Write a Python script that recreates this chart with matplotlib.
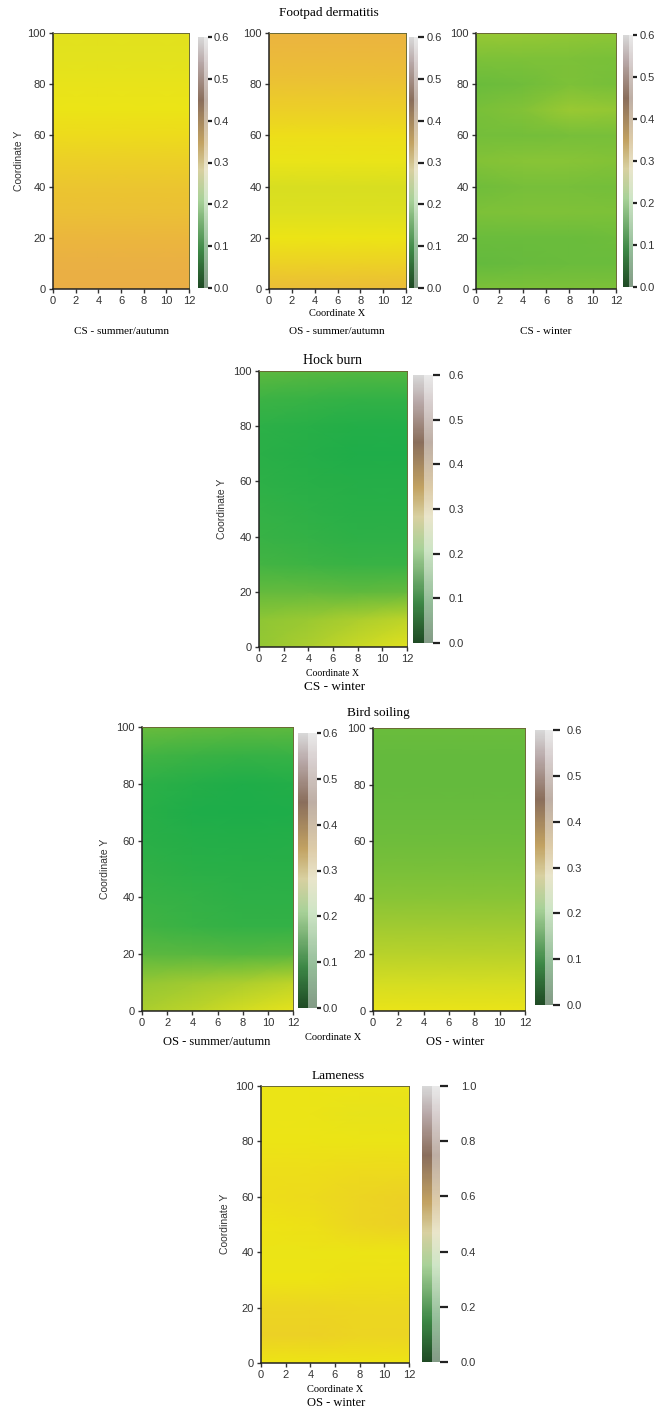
import numpy as np
import matplotlib
matplotlib.use("Agg")
import matplotlib.pyplot as plt
from matplotlib.colors import LinearSegmentedColormap, Normalize
from matplotlib.cm import ScalarMappable
from matplotlib.patches import Rectangle

# grid where the maps were sampled (Y rows bottom -> top, X columns)
y_levels = [0, 10, 20, 30, 40, 50, 60, 70, 80, 90, 100]
x_cols = [0, 4, 8, 12]

# Footpad dermatitis, CS - summer/autumn
fp_cs_summer = [
    [0.98, 0.98, 0.98, 0.98],
    [0.97, 0.97, 0.97, 0.97],
    [0.95, 0.95, 0.95, 0.95],
    [0.92, 0.92, 0.92, 0.92],
    [0.90, 0.90, 0.90, 0.90],
    [0.87, 0.87, 0.87, 0.87],
    [0.83, 0.83, 0.83, 0.83],
    [0.78, 0.78, 0.78, 0.78],
    [0.74, 0.74, 0.74, 0.74],
    [0.71, 0.71, 0.71, 0.71],
    [0.70, 0.70, 0.70, 0.70],
]
# Footpad dermatitis, OS - summer/autumn
fp_os_summer = [
    [0.93, 0.93, 0.93, 0.93],
    [0.86, 0.86, 0.86, 0.86],
    [0.79, 0.79, 0.79, 0.79],
    [0.69, 0.69, 0.69, 0.69],
    [0.67, 0.67, 0.67, 0.67],
    [0.76, 0.76, 0.76, 0.76],
    [0.82, 0.82, 0.82, 0.82],
    [0.87, 0.87, 0.87, 0.87],
    [0.91, 0.91, 0.91, 0.91],
    [0.94, 0.94, 0.94, 0.94],
    [0.96, 0.96, 0.96, 0.96],
]
# Footpad dermatitis, CS - winter
fp_cs_winter = [
    [0.36, 0.36, 0.36, 0.36],
    [0.28, 0.29, 0.30, 0.30],
    [0.30, 0.30, 0.30, 0.31],
    [0.36, 0.37, 0.37, 0.36],
    [0.32, 0.34, 0.34, 0.33],
    [0.38, 0.40, 0.40, 0.38],
    [0.33, 0.33, 0.34, 0.34],
    [0.35, 0.38, 0.46, 0.44],
    [0.30, 0.32, 0.36, 0.34],
    [0.36, 0.36, 0.36, 0.35],
    [0.45, 0.45, 0.43, 0.42],
]
# Hock burn, CS - winter
hb_cs_winter = [
    [0.44, 0.52, 0.62, 0.70],
    [0.42, 0.46, 0.52, 0.58],
    [0.28, 0.28, 0.26, 0.28],
    [0.16, 0.14, 0.12, 0.12],
    [0.12, 0.10, 0.08, 0.08],
    [0.10, 0.08, 0.06, 0.06],
    [0.08, 0.06, 0.05, 0.05],
    [0.07, 0.05, 0.03, 0.03],
    [0.08, 0.06, 0.04, 0.04],
    [0.14, 0.12, 0.10, 0.10],
    [0.26, 0.24, 0.22, 0.22],
]
# Bird soiling, OS - summer/autumn
bs_os_summer = [
    [0.52, 0.58, 0.66, 0.72],
    [0.44, 0.48, 0.52, 0.58],
    [0.25, 0.24, 0.22, 0.24],
    [0.15, 0.12, 0.10, 0.10],
    [0.12, 0.10, 0.08, 0.08],
    [0.09, 0.07, 0.06, 0.06],
    [0.07, 0.05, 0.04, 0.05],
    [0.06, 0.03, 0.02, 0.03],
    [0.08, 0.05, 0.03, 0.04],
    [0.16, 0.13, 0.11, 0.12],
    [0.30, 0.28, 0.26, 0.26],
]
# Bird soiling, OS - winter
bs_os_winter = [
    [0.76, 0.76, 0.76, 0.76],
    [0.66, 0.66, 0.66, 0.66],
    [0.56, 0.56, 0.56, 0.56],
    [0.48, 0.48, 0.48, 0.48],
    [0.40, 0.40, 0.40, 0.40],
    [0.35, 0.35, 0.35, 0.35],
    [0.31, 0.31, 0.31, 0.31],
    [0.29, 0.29, 0.29, 0.29],
    [0.28, 0.28, 0.28, 0.28],
    [0.28, 0.28, 0.28, 0.28],
    [0.30, 0.30, 0.30, 0.30],
]
# Lameness, OS - winter
lm_os_winter = [
    [0.80, 0.80, 0.80, 0.80],
    [0.86, 0.86, 0.85, 0.85],
    [0.85, 0.85, 0.84, 0.84],
    [0.80, 0.80, 0.81, 0.81],
    [0.78, 0.78, 0.79, 0.79],
    [0.80, 0.81, 0.85, 0.86],
    [0.82, 0.83, 0.85, 0.86],
    [0.82, 0.82, 0.83, 0.83],
    [0.79, 0.79, 0.78, 0.78],
    [0.78, 0.77, 0.73, 0.74],
    [0.78, 0.78, 0.77, 0.77],
]

cb_ticks_small = [0.0, 0.1, 0.2, 0.3, 0.4, 0.5, 0.6]
cb_ticks_lame = [0.0, 0.2, 0.4, 0.6, 0.8, 1.0]

W, H = 658, 1412
SANS = "Liberation Sans"
SERIF = "Liberation Serif"

# green -> yellow -> orange map for the fields
field_cmap = LinearSegmentedColormap.from_list("field", [
    (0.0, "#18ac4a"), (0.25, "#5cb83f"), (0.5, "#a6cc30"),
    (0.72, "#e6e31c"), (0.8, "#ede414"), (1.0, "#eaa84a")])
# the scanned looking legend bars
bar_cmap = LinearSegmentedColormap.from_list("bar", [
    (0.0, "#1f4a24"), (0.15, "#3d8846"), (0.35, "#a8d198"),
    (0.47, "#d8d0a0"), (0.58, "#c2a262"), (0.75, "#8a6e5c"),
    (0.9, "#b8a8a8"), (1.0, "#d8d8d8")])


def box(l, t, r, b):
    return [l / W, 1 - b / H, (r - l) / W, (b - t) / H]


def ftext(x, y, s, **kw):
    fig.text(x / W, 1 - y / H, s, ha="center", va="center", **kw)


def field(rect, data):
    ax = fig.add_axes(box(*rect))
    X, Y = np.meshgrid(x_cols, y_levels)
    ax.pcolormesh(X, Y, np.array(data), cmap=field_cmap, vmin=0, vmax=1,
                  shading="gouraud")
    ax.set_xlim(0, 12)
    ax.set_ylim(0, 100)
    ax.set_xticks(range(0, 13, 2))
    ax.set_yticks(range(0, 101, 20))
    ax.tick_params(direction="out", length=3, width=1, labelsize=8,
                   colors="#333333", pad=2)
    for lab in ax.get_xticklabels() + ax.get_yticklabels():
        lab.set_fontfamily(SANS)
    for s in ["left", "bottom"]:
        ax.spines[s].set_color("#222222")
        ax.spines[s].set_linewidth(1.1)
    for s in ["top", "right"]:
        ax.spines[s].set_color("#6a6a34")
        ax.spines[s].set_linewidth(0.7)
    return ax


def legend_bar(rect, vmax, ticks, tlen, tpad):
    cax = fig.add_axes(box(*rect))
    sm = ScalarMappable(norm=Normalize(0, vmax), cmap=bar_cmap)
    cb = fig.colorbar(sm, cax=cax, ticks=ticks)
    cb.outline.set_visible(False)
    cax.add_patch(Rectangle((0.55, 0), 0.45, 1, transform=cax.transAxes,
                            color="white", alpha=0.45, zorder=3, lw=0))
    cax.tick_params(length=tlen, width=1.6, colors="#222222", pad=tpad,
                    labelsize=8)
    cb.set_ticklabels(["%.1f" % t for t in ticks])
    for lab in cax.get_yticklabels():
        lab.set_fontfamily(SANS)
        lab.set_color("#333333")


fig = plt.figure(figsize=(W / 100, H / 100), dpi=100)

# Footpad dermatitis
field((53, 33, 189, 289), fp_cs_summer)
legend_bar((198, 37, 208, 288), 0.6, cb_ticks_small, 3, 1)
field((269, 33, 406, 289), fp_os_summer)
legend_bar((409, 37, 418, 288), 0.6, cb_ticks_small, 4, 2)
field((476, 33, 616, 289), fp_cs_winter)
legend_bar((623, 35, 633, 287), 0.6, cb_ticks_small, 3, 2)
ftext(329, 13, "Footpad dermatitis", family=SERIF, fontsize=9.5)
ftext(337, 313, "Coordinate X", family=SERIF, fontsize=7.5)
ftext(121, 331, "CS - summer/autumn", family=SERIF, fontsize=8)
ftext(337, 331, "OS - summer/autumn", family=SERIF, fontsize=8)
ftext(546, 331, "CS - winter", family=SERIF, fontsize=8)
fig.text(19 / W, 1 - 161 / H, "Coordinate Y", rotation=90, ha="center",
         va="center", family=SANS, fontsize=7.5, color="#333333")

# Hock burn
field((259, 371, 407, 647), hb_cs_winter)
legend_bar((413, 375, 433, 643), 0.6, cb_ticks_small, 5, 6)
ftext(333, 360, "Hock burn", family=SERIF, fontsize=10)
ftext(333, 673, "Coordinate X", family=SERIF, fontsize=7)
ftext(335, 687, "CS - winter", family=SERIF, fontsize=9.5)
fig.text(222 / W, 1 - 509 / H, "Coordinate Y", rotation=90, ha="center",
         va="center", family=SANS, fontsize=7.5, color="#333333")

# Bird soiling
field((142, 727, 293, 1011), bs_os_summer)
legend_bar((298, 733, 317, 1008), 0.6, cb_ticks_small, 3, 1)
field((373, 728, 525, 1011), bs_os_winter)
legend_bar((535, 730, 553, 1005), 0.6, cb_ticks_small, 5, 5)
ftext(378, 713, "Bird soiling", family=SERIF, fontsize=9.5)
ftext(217, 1042, "OS - summer/autumn", family=SERIF, fontsize=9)
ftext(333, 1037, "Coordinate X", family=SERIF, fontsize=7.5)
ftext(455, 1042, "OS - winter", family=SERIF, fontsize=9)
fig.text(105 / W, 1 - 869 / H, "Coordinate Y", rotation=90, ha="center",
         va="center", family=SANS, fontsize=7.5, color="#333333")

# Lameness
field((261, 1086, 409, 1363), lm_os_winter)
legend_bar((422, 1086, 440, 1362), 1.0, cb_ticks_lame, 6, 9)
ftext(338, 1076, "Lameness", family=SERIF, fontsize=9.5)
ftext(335, 1389, "Coordinate X", family=SERIF, fontsize=7.5)
ftext(336, 1403, "OS - winter", family=SERIF, fontsize=9)
fig.text(225 / W, 1 - 1224 / H, "Coordinate Y", rotation=90, ha="center",
         va="center", family=SANS, fontsize=7.5, color="#333333")

fig.savefig("out.png", dpi=100, facecolor="white")
